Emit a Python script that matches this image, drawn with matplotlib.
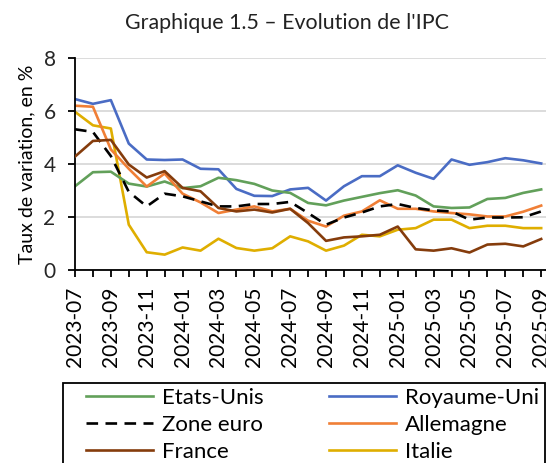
import matplotlib
matplotlib.use("Agg")
import matplotlib.pyplot as plt
from matplotlib.patches import Rectangle
import pandas as pd

months = list(pd.period_range("2023-07", "2025-09", freq="M").strftime("%Y-%m"))

etats_unis = [3.16, 3.69, 3.71, 3.26, 3.15, 3.34, 3.09, 3.16, 3.48, 3.39, 3.25, 3.00, 2.91, 2.53,
              2.44, 2.62, 2.76, 2.90, 3.01, 2.81, 2.40, 2.34, 2.36, 2.68, 2.72, 2.91, 3.04]
royaume_uni = [6.45, 6.27, 6.41, 4.77, 4.17, 4.15, 4.17, 3.82, 3.80, 3.06, 2.80, 2.79, 3.04, 3.10,
               2.62, 3.16, 3.54, 3.54, 3.95, 3.67, 3.44, 4.17, 3.97, 4.07, 4.22, 4.14, 4.02]
zone_euro = [5.31, 5.21, 4.30, 2.95, 2.40, 2.88, 2.78, 2.59, 2.40, 2.40, 2.49, 2.49, 2.57, 2.15,
             1.71, 1.98, 2.17, 2.40, 2.49, 2.34, 2.25, 2.21, 1.90, 1.98, 1.98, 1.99, 2.21]
allemagne = [6.20, 6.16, 4.55, 3.82, 3.15, 3.64, 2.88, 2.55, 2.15, 2.28, 2.40, 2.21, 2.31, 1.86,
             1.64, 2.05, 2.21, 2.63, 2.31, 2.31, 2.21, 2.15, 2.10, 2.02, 2.02, 2.20, 2.43]
france = [4.28, 4.87, 4.91, 3.98, 3.49, 3.73, 3.10, 2.97, 2.34, 2.21, 2.28, 2.17, 2.31, 1.77,
          1.10, 1.23, 1.27, 1.33, 1.64, 0.78, 0.73, 0.82, 0.66, 0.96, 0.99, 0.89, 1.17]
italie = [5.97, 5.46, 5.34, 1.71, 0.67, 0.58, 0.85, 0.73, 1.18, 0.83, 0.73, 0.82, 1.27, 1.08,
          0.73, 0.92, 1.33, 1.27, 1.52, 1.58, 1.90, 1.90, 1.58, 1.67, 1.67, 1.58, 1.58]

plt.rcParams['font.family'] = ['Lato', 'DejaVu Sans']

W, H = 546, 463
fig = plt.figure(figsize=(W / 100, H / 100), dpi=100)

left, right_px, top_px, bottom_px = 75, 550, 58, 270
ax = fig.add_axes([left / W, 1 - bottom_px / H, (right_px - left) / W, (bottom_px - top_px) / H])

x = list(range(len(months)))
c_us, c_uk, c_ez, c_de, c_fr, c_it = "#62a05a", "#4a6cc4", "black", "#f07f36", "#853c0c", "#dfae00"
lw = 1.9
l_us, = ax.plot(x, etats_unis, color=c_us, lw=lw, label="Etats-Unis")
l_uk, = ax.plot(x, royaume_uni, color=c_uk, lw=lw, label="Royaume-Uni")
l_ez, = ax.plot(x, zone_euro, color=c_ez, lw=lw, linestyle=(0, (4.4, 2.8)), label="Zone euro")
l_de, = ax.plot(x, allemagne, color=c_de, lw=lw, label="Allemagne")
l_fr, = ax.plot(x, france, color=c_fr, lw=lw, label="France")
l_it, = ax.plot(x, italie, color=c_it, lw=lw, label="Italie")
l_it.set_zorder(2.1); l_fr.set_zorder(2.6); l_de.set_zorder(2.4); l_ez.set_zorder(2.5)
l_uk.set_zorder(2.2); l_us.set_zorder(2.3)

ax.set_xlim(0, (right_px - left) / 17.93)
ax.set_ylim(0, 8)
ax.set_yticks([0, 2, 4, 6, 8])
ax.set_xticks(x)
ax.set_xticklabels([m if i % 2 == 0 else "" for i, m in enumerate(months)], rotation=90)
ax.grid(axis="y", color="#d9d9d9", lw=1.3)
ax.set_axisbelow(True)
for s in ["top", "right"]:
    ax.spines[s].set_visible(False)
for s in ["left", "bottom"]:
    ax.spines[s].set_color("black")
    ax.spines[s].set_linewidth(1.3)
ax.tick_params(axis="both", direction="out", length=5, width=1.3, color="black")
ax.tick_params(axis="y", labelsize=15, pad=9, labelcolor="#262626")
ax.tick_params(axis="x", labelsize=15, pad=7, labelcolor="black")
ax.set_ylabel("Taux de variation, en %", fontsize=14, labelpad=6)

fig.text(287 / W, 1 - 23 / H, "Graphique 1.5 – Evolution de l'IPC", ha="center", va="center",
         fontsize=15.4, color="#222222")

fig.patches.append(Rectangle((63 / W, -0.1), (545 - 63) / W, (1 - 383 / H) + 0.1,
                             transform=fig.transFigure, fill=False, ec="black", lw=1.3))
leg_kw = dict(loc="upper left", frameon=False, borderpad=0, borderaxespad=0, fontsize=16,
              handlelength=3.0, handletextpad=0.4, labelspacing=0.32)
fig.legend(handles=[l_us, l_ez, l_fr], bbox_to_anchor=(86 / W, 1 - 388 / H), **leg_kw)
fig.legend(handles=[l_uk, l_de, l_it], bbox_to_anchor=(329 / W, 1 - 388 / H), **leg_kw)

fig.savefig("out.png", dpi=100)
